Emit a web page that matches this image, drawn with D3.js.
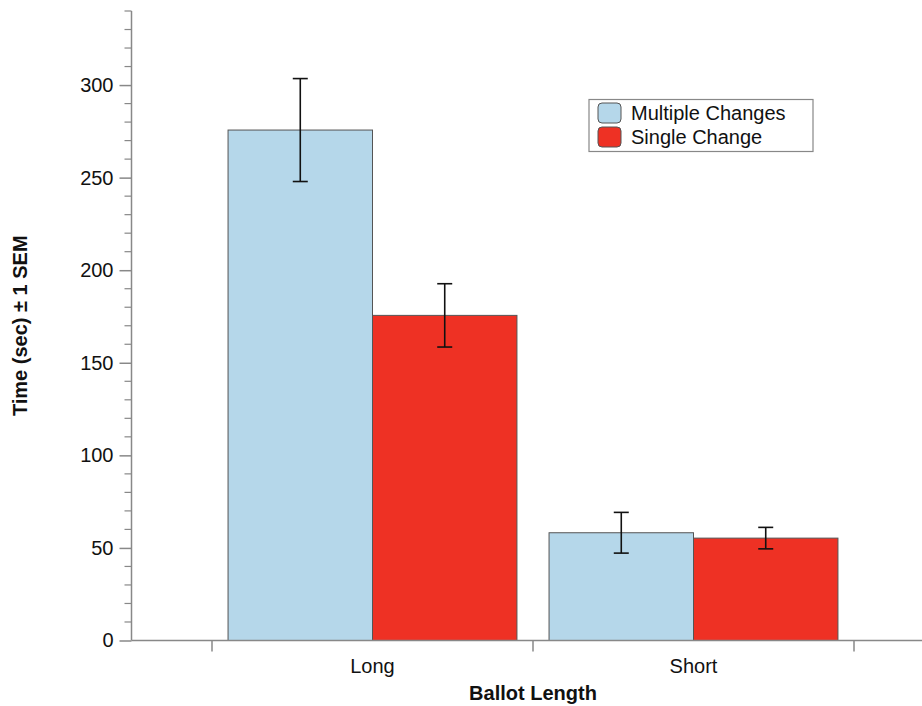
<!DOCTYPE html>
<meta charset="utf-8">
<style>
    body { margin: 0; background: #fff; }
    text { font-family: "Liberation Sans", Arial, sans-serif; }
</style>
<script src="https://d3js.org/d3.v7.min.js"></script>
<svg width="922" height="706"></svg>
<script>
    var categories = ["Long", "Short"];
    var series = ["Multiple Changes", "Single Change"];
    var colors = ["#b5d7ea", "#ee3124"];
    // mean time (sec) for each category, one array per series
    var multipleValues = [275.7, 58.2];
    var singleValues = [175.6, 55.3];
    // standard error of the mean
    var multipleSem = [27.8, 11.0];
    var singleSem = [17.1, 5.8];
    var yTicks = [0, 50, 100, 150, 200, 250, 300];

    var svg = d3.select("svg");

    var axisLeft = 131.5, plotTop = 11, plotBottom = 640.5;

    var y = d3.scaleLinear().domain([0, 340]).range([plotBottom, plotTop]);
    var x0 = d3.scaleBand().domain(categories).range([212, 854]);
    var x1 = d3.scaleBand().domain(series)
        .range([x0.bandwidth() * 0.05, x0.bandwidth() * 0.95]);

    var data = [];
    categories.forEach(function (c, i) {
        data.push({cat: c, s: series[0], v: multipleValues[i], e: multipleSem[i], color: colors[0]});
        data.push({cat: c, s: series[1], v: singleValues[i], e: singleSem[i], color: colors[1]});
    });

    // bars
    svg.append("g").selectAll("rect")
        .data(data)
        .enter().append("rect")
        .attr("x", function (d) { return x0(d.cat) + x1(d.s); })
        .attr("y", function (d) { return y(d.v); })
        .attr("width", x1.bandwidth())
        .attr("height", function (d) { return y(0) - y(d.v); })
        .attr("fill", function (d) { return d.color; })
        .attr("stroke", "#555")
        .attr("stroke-width", 1);

    // error bars
    var err = svg.append("g").attr("stroke", "#111").attr("stroke-width", 1.6)
        .selectAll("g").data(data).enter().append("g");
    function cx(d) { return x0(d.cat) + x1(d.s) + x1.bandwidth() / 2; }
    err.append("line")
        .attr("x1", cx).attr("x2", cx)
        .attr("y1", function (d) { return y(d.v + d.e); })
        .attr("y2", function (d) { return y(d.v - d.e); });
    err.append("line")
        .attr("x1", function (d) { return cx(d) - 7.5; })
        .attr("x2", function (d) { return cx(d) + 7.5; })
        .attr("y1", function (d) { return y(d.v + d.e); })
        .attr("y2", function (d) { return y(d.v + d.e); });
    err.append("line")
        .attr("x1", function (d) { return cx(d) - 7.5; })
        .attr("x2", function (d) { return cx(d) + 7.5; })
        .attr("y1", function (d) { return y(d.v - d.e); })
        .attr("y2", function (d) { return y(d.v - d.e); });

    // y axis
    var yAxis = d3.axisLeft(y).tickValues(yTicks).tickSize(12).tickPadding(6);
    var gy = svg.append("g").attr("transform", "translate(" + axisLeft + ",0)").call(yAxis);
    gy.select(".domain").remove();
    gy.selectAll(".tick line").attr("stroke", "#888").attr("stroke-width", 1.5);
    gy.selectAll(".tick text").attr("font-size", 20).attr("fill", "#111")
        .attr("font-family", "Liberation Sans, Arial, sans-serif");
    // minor ticks
    var minor = d3.range(0, 341, 10).filter(function (v) { return v % 50 !== 0; });
    svg.append("g").selectAll("line").data(minor).enter().append("line")
        .attr("x1", axisLeft - 7).attr("x2", axisLeft)
        .attr("y1", function (d) { return y(d); }).attr("y2", function (d) { return y(d); })
        .attr("stroke", "#888").attr("stroke-width", 1.2);
    svg.append("line")
        .attr("x1", axisLeft).attr("x2", axisLeft)
        .attr("y1", y(340)).attr("y2", y(0))
        .attr("stroke", "#888").attr("stroke-width", 1.5);

    // x axis
    svg.append("line")
        .attr("x1", axisLeft).attr("x2", 922)
        .attr("y1", y(0)).attr("y2", y(0))
        .attr("stroke", "#888").attr("stroke-width", 1.5);
    var bounds = categories.map(function (c) { return x0(c); }).concat([x0.range()[1]]);
    svg.append("g").selectAll("line").data(bounds).enter().append("line")
        .attr("x1", function (d) { return d; }).attr("x2", function (d) { return d; })
        .attr("y1", y(0)).attr("y2", y(0) + 11)
        .attr("stroke", "#888").attr("stroke-width", 1.5);
    svg.append("g").selectAll("text").data(categories).enter().append("text")
        .attr("x", function (d) { return x0(d) + x0.bandwidth() / 2; })
        .attr("y", 673)
        .attr("text-anchor", "middle")
        .attr("font-size", 20)
        .attr("fill", "#111")
        .text(function (d) { return d; });

    // axis titles
    svg.append("text")
        .attr("x", (x0.range()[0] + x0.range()[1]) / 2)
        .attr("y", 700)
        .attr("text-anchor", "middle")
        .attr("font-size", 20)
        .attr("font-weight", "bold")
        .attr("fill", "#111")
        .text("Ballot Length");
    svg.append("text")
        .attr("transform", "translate(27," + (plotTop + plotBottom) / 2 + ") rotate(-90)")
        .attr("text-anchor", "middle")
        .attr("font-size", 20)
        .attr("font-weight", "bold")
        .attr("fill", "#111")
        .text("Time (sec) \u00b1 1 SEM");

    // legend
    var legend = svg.append("g").attr("transform", "translate(589,99.5)");
    legend.append("rect")
        .attr("width", 224).attr("height", 52)
        .attr("fill", "#fff").attr("stroke", "#888").attr("stroke-width", 1.2);
    var item = legend.selectAll("g.item").data(series).enter().append("g")
        .attr("class", "item")
        .attr("transform", function (d, i) { return "translate(9," + (3.5 + i * 24) + ")"; });
    item.append("rect")
        .attr("width", 23).attr("height", 20).attr("rx", 4)
        .attr("fill", function (d, i) { return colors[i]; })
        .attr("stroke", "#555").attr("stroke-width", 1);
    item.append("text")
        .attr("x", 33).attr("y", 17)
        .attr("font-size", 20)
        .attr("fill", "#111")
        .text(function (d) { return d; });
</script>
